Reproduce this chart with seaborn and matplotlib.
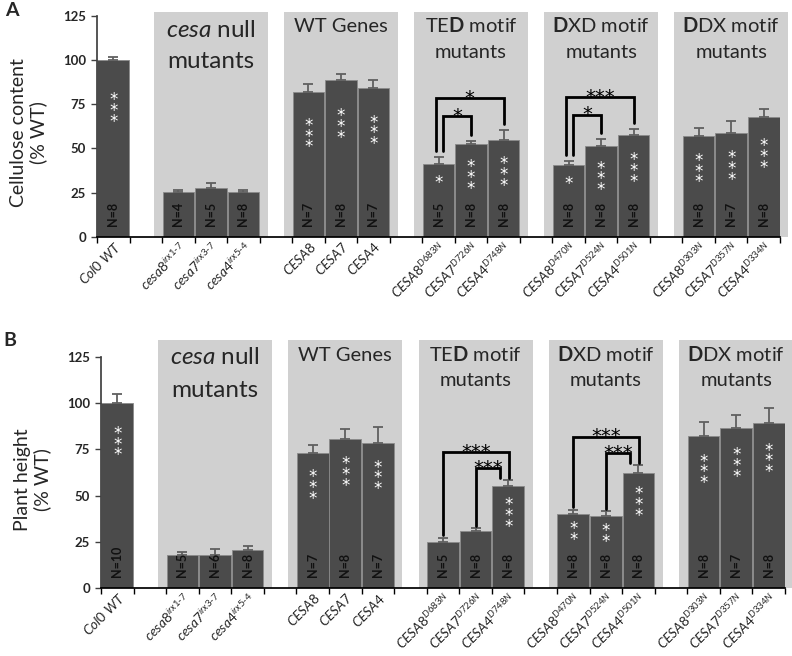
import matplotlib
matplotlib.use("Agg")
import matplotlib.pyplot as plt
from matplotlib.patches import Rectangle
import numpy as np
import pandas as pd
import seaborn as sns

sns.set_theme(style="ticks")
plt.rcParams['font.family'] = ['Lato', 'DejaVu Sans']
plt.rcParams['mathtext.fontset'] = 'custom'
plt.rcParams['mathtext.rm'] = 'Lato'
plt.rcParams['mathtext.it'] = 'Lato:italic'
plt.rcParams['mathtext.bf'] = 'Lato:bold'
plt.rcParams['mathtext.default'] = 'it'

# x slots, "gap" slots are empty spacers between groups
slots = ["Col0 WT", "gap1",
         "cesa8 irx1-7", "cesa7 irx3-7", "cesa4 irx5-4", "gap2",
         "CESA8", "CESA7", "CESA4", "gap3",
         "CESA8 D683N", "CESA7 D726N", "CESA4 D748N", "gap4",
         "CESA8 D470N", "CESA7 D524N", "CESA4 D501N", "gap5",
         "CESA8 D303N", "CESA7 D357N", "CESA4 D334N"]
lines = [s for s in slots if not s.startswith("gap")]

group_titles = [(r"$\mathit{cesa}$ null", "mutants"),
                ("WT Genes", ""),
                (r"TE$\mathbf{D}$ motif", "mutants"),
                (r"$\mathbf{D}$XD motif", "mutants"),
                (r"$\mathbf{D}$DX motif", "mutants")]
group_mid = ["cesa7 irx3-7", "CESA7", "CESA7 D726N", "CESA7 D524N", "CESA7 D357N"]

# panel A: cellulose content (% WT)
cellulose = [100, 25.5, 27.5, 25.1, 81.8, 88.6, 84.1, 41.3, 52.4, 54.5,
             40.4, 51.5, 57.5, 56.9, 58.8, 67.5]
cellulose_se = [1.5, 1.1, 2.7, 1.1, 4.4, 3.6, 4.3, 3.6, 1.9, 5.7,
                2.2, 3.6, 3.2, 4.6, 6.5, 4.5]
cellulose_n = [8, 4, 5, 8, 7, 8, 7, 5, 8, 8, 8, 8, 8, 8, 7, 8]
cellulose_stars = [3, 0, 0, 0, 3, 3, 3, 1, 3, 3, 1, 3, 3, 3, 3, 3]
cellulose_brackets = [("CESA8 D683N", "CESA7 D726N", "*"),
                      ("CESA8 D683N", "CESA4 D748N", "*"),
                      ("CESA8 D470N", "CESA7 D524N", "*"),
                      ("CESA8 D470N", "CESA4 D501N", "***")]

# panel B: plant height (% WT)
height = [100, 17.9, 17.9, 20.6, 72.8, 80.8, 78.7, 24.9, 30.6, 55.1,
          40.1, 39.0, 62.1, 82.5, 86.6, 89.4]
height_se = [5.2, 1.6, 3.2, 1.9, 4.8, 5.3, 8.4, 2.1, 1.6, 3.1,
             2.3, 2.5, 4.3, 7.1, 6.9, 8.2]
height_n = [10, 5, 6, 8, 7, 8, 7, 5, 8, 8, 8, 8, 8, 8, 7, 8]
height_stars = [3, 0, 0, 0, 3, 3, 3, 0, 0, 3, 2, 2, 3, 3, 3, 3]
height_brackets = [("CESA7 D726N", "CESA4 D748N", "***"),
                   ("CESA8 D683N", "CESA4 D748N", "***"),
                   ("CESA7 D524N", "CESA4 D501N", "***"),
                   ("CESA8 D470N", "CESA4 D501N", "***")]

BAR = "#4b4b4b"
SHADE = "#d0d0d0"


def tick_label(s):
    if s.startswith("gap"):
        return ""
    if s == "Col0 WT":
        return r"$Col0\ WT$"
    if " " in s:
        base, sup = s.split(" ")
        return "$" + base + "^{" + sup.replace("-", r"\text{-}") + "}$"
    return "$" + s + "$"


def panel(ax, vals, se, ns, stars, brackets, ylabel, shade_top, title_base,
          star_frac, gap, d1, d2):
    df = pd.DataFrame({"line": lines, "val": vals})
    sns.barplot(data=df, x="line", y="val", order=slots, color=BAR,
                saturation=1, width=0.97, edgecolor="#8a8a8a", linewidth=0.6,
                ax=ax, zorder=2)
    pos = np.array([slots.index(l) for l in lines])
    ax.errorbar(pos, vals, yerr=[np.zeros(len(se)), se], fmt="none",
                ecolor="#606060", elinewidth=1.3, capsize=3.5, capthick=1.3,
                zorder=3)

    # group shading and titles (the null mutant title is set larger)
    for gi, (mid, (t1, t2)) in enumerate(zip(group_mid, group_titles)):
        c = slots.index(mid)
        ax.add_patch(Rectangle((c - 1.75, 0), 3.5, shade_top, color=SHADE,
                               zorder=0, clip_on=False, lw=0))
        big = gi == 0
        b1, b2 = title_base[0] if big else title_base[1]
        fs = 17.5 if big else 14.5
        ax.text(c, b1, t1, ha="center", va="baseline", fontsize=fs,
                clip_on=False, zorder=4)
        if t2:
            ax.text(c, b2, t2, ha="center", va="baseline", fontsize=fs,
                    clip_on=False, zorder=4)

    # N labels and white significance stars
    for p, v, n, k in zip(pos, vals, ns, stars):
        ax.annotate(f"N={n}", (p, 0), xytext=(0, 8), textcoords="offset points",
                    rotation=90, ha="center", va="bottom", fontsize=9,
                    fontweight="bold", color="#111111", zorder=5)
        if k:
            ax.annotate("\n".join(["*"] * k), (p, v * star_frac),
                        xytext=(0, 3), textcoords="offset points",
                        ha="center", va="top", linespacing=0.48,
                        color="white", fontsize=12, family="DejaVu Sans",
                        zorder=5)

    # comparison brackets
    top_of = {l: v + e for l, v, e in zip(lines, vals, se)}
    level = {}
    for a, b, lab in brackets:
        ia, ib = slots.index(a), slots.index(b)
        la, lb = top_of[a] + gap, top_of[b] + gap
        key = (ia, ib)
        shared = [k for k in level if k[0] == ia or k[1] == ib]
        if shared:
            y = level[shared[0]] + d2
            xa, xb = ia, ib
            if shared[0][0] == ia:
                xa = ia - 0.08
            else:
                xb = ib + 0.02
        else:
            y = max(la, lb) + d1
            xa, xb = ia, ib
            other = [bb for bb in brackets if bb[:2] != (a, b)]
            if any(slots.index(o[0]) == ia for o in other):
                xa = ia + 0.13
            if any(slots.index(o[1]) == ib for o in other):
                xb = ib - 0.25
        level[key] = y
        ax.plot([xa, xa, xb, xb], [la, y, y, lb], color="black", lw=2,
                solid_joinstyle="miter", zorder=4)
        ax.annotate(lab, ((xa + xb) / 2, y), xytext=(0, -7),
                    textcoords="offset points", ha="center", va="bottom",
                    fontsize=14, family="DejaVu Sans", color="black", zorder=4)

    ax.set_ylim(0, 125)
    ax.set_yticks([0, 25, 50, 75, 100, 125])
    for t in ax.get_yticklabels():
        t.set_fontweight("bold")
        t.set_fontsize(9.5)
    ax.set_xticks(range(len(slots)))
    ax.set_xticklabels([tick_label(s) for s in slots], rotation=45, ha="right",
                       rotation_mode="anchor", fontsize=9.8)
    ax.set_xticks(np.arange(-0.5, len(slots), 1), minor=True)
    ax.tick_params(axis="x", which="major", length=0, pad=2)
    ax.tick_params(axis="x", which="minor", length=4, width=1, color="black",
                   direction="out")
    ax.tick_params(axis="y", length=4, width=1, color="#404040", pad=4)
    ax.set_xlim(-0.5, len(slots) - 0.5)
    ax.set_xlabel("")
    ax.set_ylabel(ylabel, fontsize=14, linespacing=1.15)
    ax.yaxis.set_label_coords(-0.073, 0.47)
    sns.despine(ax=ax)
    ax.spines["left"].set_color("#404040")
    ax.spines["bottom"].set_color("black")
    ax.set_facecolor("none")


fig = plt.figure(figsize=(7.92, 6.56), dpi=100)
axA = fig.add_axes([97 / 792, 1 - 236.7 / 656, 683 / 792, 221 / 656])
axB = fig.add_axes([101 / 792, 1 - 588 / 656, 684 / 792, 231 / 656])

panel(axA, cellulose, cellulose_se, cellulose_n, cellulose_stars,
      cellulose_brackets, "Cellulose content\n(% WT)", 127.3,
      [(113.1, 95.2), (115.8, 101.1)], 0.80, 3.5, 10.5, 10)
panel(axB, height, height_se, height_n, height_stars, height_brackets,
      "Plant height\n(% WT)", 134.1,
      [(121.1, 103.4), (122.9, 109.4)], 0.86, 1.5, 5, 9)

fig.text(0.006, 0.997, "A", fontsize=14, fontweight="bold", va="top")
fig.text(0.004, 1 - 332 / 656, "B", fontsize=14, fontweight="bold", va="top")

fig.savefig("out.png", dpi=100)
